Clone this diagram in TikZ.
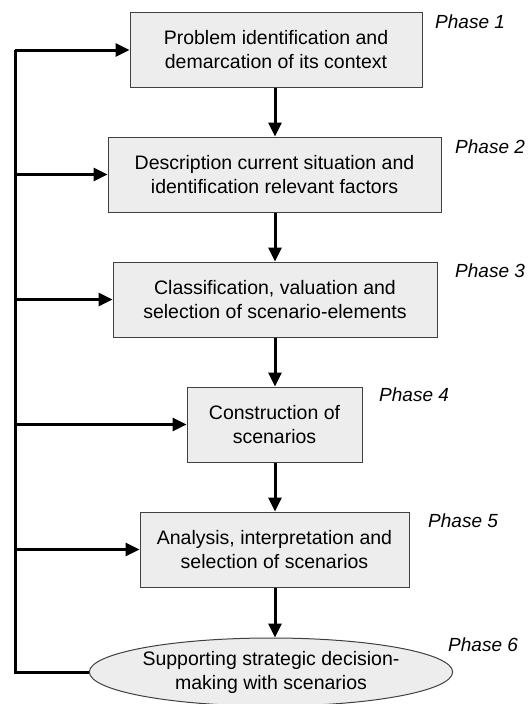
\documentclass[tikz,border=0pt]{standalone}
\usepackage{fontspec}
\setmainfont{Liberation Sans}
\usetikzlibrary{arrows.meta,shapes.geometric}
\begin{document}
\begin{tikzpicture}[x=1pt,y=-1pt,
  txt/.style={font=\fontsize{19.5}{24}\selectfont, align=center},
  phasebox/.style={txt, draw=black!75, line width=1pt, fill=black!7,
    rectangle, inner sep=0pt, minimum height=75pt},
  goalell/.style={txt, draw=black!75, line width=1pt, fill=black!7,
    ellipse, inner sep=0pt, minimum width=362pt, minimum height=68pt},
  phaselabel/.style={font=\fontsize{19}{22}\selectfont\itshape, anchor=west, inner sep=0pt},
  flow/.style={line width=3pt, -{Triangle[length=14pt,width=13pt]}},
  fback/.style={line width=3pt, line join=miter}]
\useasboundingbox (0,0) rectangle (531,704);

% process steps
\node[phasebox, minimum width=292pt] (b1) at (276,50)
  {Problem identification and\\demarcation of its context};
\node[phasebox, minimum width=333pt] (b2) at (274.5,174.5)
  {Description current situation and\\identification relevant factors};
\node[phasebox, minimum width=324pt] (b3) at (275,299.5)
  {Classification, valuation and\\selection of scenario-elements};
\node[phasebox, minimum width=175pt] (b4) at (274.5,424.5)
  {Construction of\\scenarios};
\node[phasebox, minimum width=269pt] (b5) at (274.5,549.5)
  {Analysis, interpretation and\\selection of scenarios};
\node[goalell] (b6) at (271,672)
  {Supporting strategic decision-\\making with scenarios};

% phase labels
\node[phaselabel] (p1) at (435,22) {Phase 1};
\node[phaselabel] (p2) at (455,147) {Phase 2};
\node[phaselabel] (p3) at (455,271) {Phase 3};
\node[phaselabel] (p4) at (379,395) {Phase 4};
\node[phaselabel] (p5) at (428,521) {Phase 5};
\node[phaselabel] (p6) at (448,645) {Phase 6};

% main sequence, all arrows on one vertical axis
\coordinate (axis) at (275,0);
\draw[flow] (axis |- b1.south) -- (axis |- b2.north);
\draw[flow] (axis |- b2.south) -- (axis |- b3.north);
\draw[flow] (axis |- b3.south) -- (axis |- b4.north);
\draw[flow] (axis |- b4.south) -- (axis |- b5.north);
\draw[flow] (axis |- b5.south) -- (axis |- b6.north);

% feedback loop
\coordinate (fb) at (15,50);
\draw[fback] (b6.west) -| (fb);
\draw[flow] (fb) -- (b1.west);
\draw[flow] (fb |- b2.west) -- (b2.west);
\draw[flow] (fb |- b3.west) -- (b3.west);
\draw[flow] (fb |- b4.west) -- (b4.west);
\draw[flow] (fb |- b5.west) -- (b5.west);
\end{tikzpicture}
\end{document}
